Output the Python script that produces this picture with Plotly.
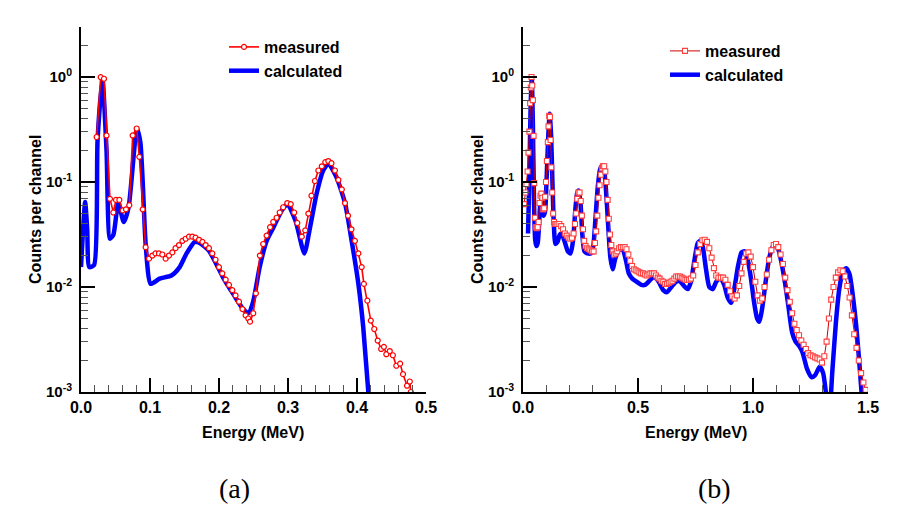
import plotly.graph_objects as go

# ---------------- Panel (a) ----------------
energy_meas_a = [0.0227, 0.0285, 0.0333, 0.037, 0.042, 0.0469, 0.0507, 0.0556, 0.0604, 0.0652,
                 0.070, 0.0749, 0.0807, 0.0845, 0.0894, 0.0937, 0.0986, 0.1034, 0.108, 0.113,
                 0.1179, 0.1227, 0.1275, 0.1324, 0.137, 0.142, 0.147, 0.1517, 0.1565, 0.1614,
                 0.166, 0.171, 0.176, 0.1807, 0.1855, 0.1903, 0.195, 0.200, 0.2048, 0.2097,
                 0.2145, 0.2193, 0.224, 0.229, 0.234, 0.2386, 0.2425, 0.245, 0.2496, 0.2535,
                 0.2593, 0.264, 0.269, 0.274, 0.2786, 0.2835, 0.288, 0.293, 0.299, 0.304,
                 0.309, 0.3135, 0.320, 0.325, 0.3295, 0.334, 0.339, 0.344, 0.349, 0.354,
                 0.3585, 0.363, 0.368, 0.373, 0.378, 0.3826, 0.387, 0.392, 0.397, 0.402,
                 0.4068, 0.410, 0.415, 0.420, 0.425, 0.430, 0.435, 0.439, 0.4425, 0.4475,
                 0.452, 0.457, 0.4625, 0.4667, 0.4725, 0.4765, 0.478]
log10_meas_a = [-0.571, 0.0, -0.016, -0.556, -1.16, -1.29, -1.17, -1.17, -1.27, -1.26,
                -1.22, -0.556, -0.49, -0.76, -1.26, -1.62, -1.73, -1.70, -1.68, -1.68,
                -1.69, -1.73, -1.70, -1.67, -1.63, -1.60, -1.56, -1.54, -1.52, -1.52,
                -1.53, -1.55, -1.57, -1.60, -1.63, -1.68, -1.74, -1.81, -1.87, -1.93,
                -1.98, -2.03, -2.08, -2.14, -2.21, -2.27, -2.30, -2.33, -2.25, -2.06,
                -1.70, -1.59, -1.51, -1.43, -1.38, -1.34, -1.29, -1.24, -1.20, -1.21,
                -1.29, -1.39, -1.52, -1.46, -1.30, -1.13, -0.99, -0.89, -0.85, -0.81,
                -0.80, -0.82, -0.89, -0.98, -1.07, -1.20, -1.32, -1.45, -1.56, -1.68,
                -1.81, -1.97, -2.13, -2.32, -2.40, -2.51, -2.59, -2.57, -2.64, -2.61,
                -2.65, -2.75, -2.73, -2.83, -2.94, -2.90, -3.0]

energy_calc_a = [0.000, 0.003, 0.006, 0.009, 0.012, 0.019, 0.024, 0.031, 0.037, 0.042, 0.047, 0.054,
                 0.062, 0.069, 0.081, 0.086, 0.094, 0.101, 0.114, 0.131, 0.143, 0.153,
                 0.165, 0.172, 0.185, 0.196, 0.206, 0.221, 0.235, 0.2425, 0.2495, 0.259,
                 0.269, 0.279, 0.291, 0.299, 0.311, 0.3237, 0.332, 0.3415, 0.351, 0.3585,
                 0.370, 0.3826, 0.392, 0.402, 0.409, 0.4164, 0.420]
log10_calc_a = [-1.81, -1.45, -1.19, -1.45, -1.81, -1.79, -0.60, -0.02, -0.70, -1.54, -1.50, -1.20,
                -1.38, -1.24, -0.49, -0.62, -1.62, -1.97, -1.92, -1.89, -1.81, -1.68,
                -1.57, -1.58, -1.65, -1.78, -1.91, -2.07, -2.21, -2.25, -2.14, -1.81,
                -1.56, -1.43, -1.27, -1.21, -1.37, -1.68, -1.43, -1.11, -0.89, -0.825,
                -0.95, -1.20, -1.55, -1.97, -2.38, -3.0, -3.2]

# ---------------- Panel (b) ----------------
energy_meas_b = [0.005, 0.010, 0.015, 0.020, 0.024, 0.028, 0.031, 0.034, 0.037, 0.040,
                 0.043, 0.046, 0.049, 0.052, 0.056, 0.060, 0.064, 0.068, 0.072, 0.076,
                 0.080, 0.084, 0.088, 0.092, 0.096, 0.100, 0.104, 0.108, 0.111, 0.114,
                 0.117, 0.120, 0.123, 0.127, 0.131, 0.135, 0.140, 0.145,
                 0.150, 0.158, 0.166, 0.174, 0.182, 0.190, 0.198, 0.206, 0.213, 0.220,
                 0.226, 0.231, 0.236, 0.241, 0.246, 0.251, 0.256, 0.261, 0.266, 0.272,
                 0.279, 0.286, 0.293, 0.300, 0.307, 0.313, 0.318, 0.323, 0.328, 0.333,
                 0.338, 0.343, 0.348, 0.353, 0.358, 0.363, 0.368, 0.373, 0.378, 0.384,
                 0.390, 0.396, 0.403, 0.410, 0.418, 0.426, 0.434, 0.442, 0.450, 0.458,
                 0.466, 0.474, 0.482, 0.490, 0.498, 0.506, 0.514, 0.522, 0.530, 0.538,
                 0.546, 0.554, 0.562, 0.570, 0.578, 0.586, 0.594, 0.602, 0.610, 0.618,
                 0.626, 0.634, 0.642, 0.650, 0.658, 0.666, 0.674, 0.682, 0.690, 0.698,
                 0.706, 0.714, 0.722, 0.730,
                 0.740, 0.750, 0.760, 0.770, 0.780, 0.790, 0.800, 0.810, 0.820, 0.830,
                 0.840, 0.850, 0.860, 0.870, 0.880, 0.890, 0.900, 0.910, 0.920, 0.930,
                 0.940, 0.950, 0.960, 0.970, 0.980, 0.990, 1.000, 1.010, 1.020, 1.030,
                 1.040, 1.050, 1.060, 1.070, 1.080, 1.090, 1.100, 1.110, 1.120, 1.130,
                 1.140, 1.150, 1.160, 1.170, 1.180, 1.190, 1.200, 1.210, 1.220, 1.230,
                 1.240, 1.250, 1.260, 1.270, 1.280, 1.290, 1.300, 1.310, 1.320, 1.330,
                 1.340, 1.350, 1.360, 1.370, 1.380, 1.390, 1.400, 1.410, 1.420, 1.430,
                 1.440, 1.450, 1.460, 1.470, 1.480, 1.490]
log10_meas_b = [-1.21, -1.10, -1.02, -0.90, -0.72, -0.52, -0.25, -0.10, 0.0, -0.08,
                -0.22, -0.56, -1.01, -1.34, -1.43, -1.44, -1.43, -1.38, -1.20, -1.13,
                -1.11, -1.15, -1.26, -1.25, -1.14, -1.00, -0.80, -0.62, -0.47, -0.37,
                -0.38, -0.60, -0.86, -1.10, -1.30, -1.38, -1.40, -1.40,
                -1.40, -1.40, -1.42, -1.45, -1.49, -1.51, -1.53, -1.54, -1.53, -1.49,
                -1.40, -1.30, -1.16, -1.10, -1.10, -1.18, -1.32, -1.45, -1.56, -1.61,
                -1.63, -1.64, -1.65, -1.66, -1.66, -1.58, -1.47, -1.32, -1.15, -1.03,
                -0.93, -0.87, -0.85, -0.85, -0.90, -1.00, -1.17, -1.35, -1.50, -1.60,
                -1.66, -1.69, -1.68, -1.66, -1.63, -1.62, -1.62, -1.62, -1.64, -1.69,
                -1.75, -1.80, -1.83, -1.84, -1.85, -1.86, -1.87, -1.87, -1.88, -1.89,
                -1.88, -1.87, -1.87, -1.87, -1.89, -1.91, -1.92, -1.94, -1.95, -1.97,
                -1.97, -1.96, -1.95, -1.94, -1.92, -1.90, -1.90, -1.90, -1.91, -1.92,
                -1.93, -1.93, -1.93, -1.92,
                -1.89, -1.79, -1.67, -1.59, -1.555, -1.55, -1.57, -1.63, -1.72, -1.82,
                -1.89, -1.91, -1.91, -1.91, -1.93, -1.98, -2.04, -2.09, -2.11, -2.08,
                -1.99, -1.87, -1.76, -1.68, -1.67, -1.71, -1.81, -1.95, -2.08, -2.13,
                -2.11, -2.00, -1.88, -1.74, -1.65, -1.60, -1.59, -1.62, -1.69, -1.78,
                -1.91, -2.03, -2.14, -2.25, -2.35, -2.41, -2.46, -2.51, -2.55, -2.59,
                -2.63, -2.65, -2.66, -2.67, -2.68, -2.69, -2.72, -2.66, -2.52, -2.30,
                -2.12, -2.00, -1.91, -1.86, -1.84, -1.85, -1.90, -1.99, -2.10, -2.27,
                -2.45, -2.58, -2.70, -2.82, -2.91, -2.98]

energy_calc_b = [0.022, 0.028, 0.033, 0.038, 0.043, 0.048, 0.053, 0.058, 0.064, 0.070,
                 0.077, 0.083, 0.090, 0.096, 0.103, 0.110, 0.116, 0.122, 0.128, 0.134,
                 0.141, 0.150, 0.160, 0.168, 0.180, 0.195, 0.207, 0.218, 0.228, 0.236,
                 0.242, 0.250, 0.258, 0.267, 0.280, 0.295, 0.305, 0.315, 0.325, 0.335,
                 0.345, 0.352, 0.360, 0.370, 0.380, 0.390, 0.400, 0.412, 0.425, 0.435,
                 0.448, 0.460, 0.475, 0.495, 0.515, 0.530, 0.550, 0.570, 0.590, 0.610,
                 0.625, 0.645, 0.665, 0.680, 0.700, 0.716, 0.730, 0.745, 0.760, 0.772,
                 0.782, 0.795, 0.810, 0.825, 0.840, 0.858, 0.875, 0.890, 0.905, 0.920,
                 0.935, 0.950, 0.963, 0.975, 0.990, 1.005, 1.018, 1.028, 1.040, 1.055,
                 1.070, 1.085, 1.098, 1.110, 1.125, 1.140, 1.155, 1.170, 1.185, 1.200,
                 1.215, 1.235, 1.255, 1.270, 1.290, 1.305, 1.320, 1.333, 1.345, 1.360,
                 1.375, 1.390, 1.405, 1.420, 1.435, 1.450, 1.465, 1.475, 1.480]
log10_calc_b = [-1.49, -0.90, -0.30, 0.0, -0.45, -1.20, -1.55, -1.61, -1.58, -1.40,
                -1.17, -1.20, -1.32, -1.28, -0.95, -0.55, -0.35, -0.55, -1.00, -1.40,
                -1.59, -1.57, -1.50, -1.49, -1.56, -1.66, -1.68, -1.55, -1.25, -1.10,
                -1.08, -1.20, -1.50, -1.66, -1.68, -1.68, -1.62, -1.35, -1.05, -0.88,
                -0.84, -0.87, -1.05, -1.40, -1.72, -1.83, -1.74, -1.66, -1.64, -1.65,
                -1.75, -1.87, -1.92, -1.95, -1.98, -1.98, -1.94, -1.90, -1.95, -2.03,
                -2.05, -2.00, -1.95, -1.94, -1.99, -2.02, -1.95, -1.75, -1.58, -1.56,
                -1.62, -1.82, -2.00, -2.02, -1.95, -1.91, -1.98, -2.10, -2.15, -2.00,
                -1.80, -1.67, -1.66, -1.72, -1.90, -2.15, -2.30, -2.33, -2.20, -1.95,
                -1.73, -1.62, -1.60, -1.64, -1.78, -1.97, -2.20, -2.43, -2.52, -2.56,
                -2.62, -2.78, -2.86, -2.84, -2.76, -2.82, -3.05, -3.15, -2.80, -2.35,
                -2.02, -1.86, -1.82, -1.88, -2.10, -2.40, -2.80, -3.10, -3.30]

y_tick_vals = [0.001, 0.01, 0.1, 1]
y_tick_text = ["10<sup>-3</sup>", "10<sup>-2</sup>", "10<sup>-1</sup>", "10<sup>0</sup>"]
x_ticks_a = [0.0, 0.1, 0.2, 0.3, 0.4, 0.5]
x_ticks_b = [0.0, 0.5, 1.0, 1.5]


def counts(logs):
    return [10 ** v for v in logs]


FONT = "Liberation Sans, Arial, sans-serif"
BLUE = "#0000ff"
RED = "#ff0000"

fig = go.Figure()

# panel (a)
fig.add_trace(go.Scatter(x=energy_calc_a, y=counts(log10_calc_a), mode="lines",
                         name="calculated", line=dict(color=BLUE, width=4.5, shape="spline", smoothing=0.6),
                         xaxis="x", yaxis="y", legend="legend", legendrank=2))
fig.add_trace(go.Scatter(x=energy_meas_a, y=counts(log10_meas_a), mode="lines+markers",
                         name="measured", line=dict(color=RED, width=1.6),
                         marker=dict(symbol="circle", size=5, color="white",
                                     line=dict(color=RED, width=1.2)),
                         xaxis="x", yaxis="y", legend="legend", legendrank=1))

# panel (b)
fig.add_trace(go.Scatter(x=energy_calc_b, y=counts(log10_calc_b), mode="lines",
                         name="calculated", line=dict(color=BLUE, width=4.5, shape="spline", smoothing=0.6),
                         xaxis="x2", yaxis="y2", legend="legend2", legendrank=2))
fig.add_trace(go.Scatter(x=energy_meas_b, y=counts(log10_meas_b), mode="lines+markers",
                         name="measured", line=dict(color="#d00000", width=1),
                         marker=dict(symbol="square", size=5, color="white",
                                     line=dict(color="#ff4040", width=1.1)),
                         xaxis="x2", yaxis="y2", legend="legend2", legendrank=1))

W, H = 919, 519
dom_y = [(H - 392) / H, (H - 27) / H]
dom_xa = [81 / W, 426 / W]
dom_xb = [523 / W, 868 / W]

tickfont = dict(family=FONT, size=16, color="black", weight="bold")

common_x = dict(showline=True, linecolor="black", linewidth=2, ticks="inside", ticklen=14,
                tickwidth=2, tickcolor="black", showgrid=False, zeroline=False, mirror=False,
                tickfont=tickfont, tickformat=".1f", automargin=False)
common_y = dict(type="log", range=[-3, 0.477], showline=True, linecolor="black", linewidth=2,
                ticks="inside", ticklen=14, tickwidth=2, tickcolor="black", showgrid=False,
                zeroline=False, tickvals=y_tick_vals, ticktext=y_tick_text,
                tickfont=dict(family=FONT, size=15, color="black", weight="bold"),
                automargin=False, ticklabelstandoff=4,
                minor=dict(ticks="inside", ticklen=7, tickwidth=1, tickcolor="#555555",
                           dtick="D1", showgrid=False))

fig.update_layout(
    width=W, height=H, margin=dict(l=0, r=0, t=0, b=0, autoexpand=False),
    paper_bgcolor="white", plot_bgcolor="white",
    xaxis=dict(domain=dom_xa, range=[0, 0.5], tickvals=x_ticks_a, anchor="y",
               minor=dict(ticks="inside", ticklen=7, tickwidth=1, tickcolor="#555555", dtick=0.02),
               **common_x),
    yaxis=dict(domain=dom_y, anchor="x", **common_y),
    xaxis2=dict(domain=dom_xb, range=[0, 1.5], tickvals=x_ticks_b, anchor="y2",
                minor=dict(ticks="inside", ticklen=7, tickwidth=1, tickcolor="#555555", dtick=0.1),
                **common_x),
    yaxis2=dict(domain=dom_y, anchor="x2", **common_y),
    legend=dict(x=224 / W, y=1 - 30 / H, xanchor="left", yanchor="top",
                font=dict(family=FONT, size=16, color="black", weight="bold"),
                bgcolor="rgba(0,0,0,0)", tracegroupgap=0, itemwidth=30),
    legend2=dict(x=665 / W, y=1 - 34 / H, xanchor="left", yanchor="top",
                 font=dict(family=FONT, size=16, color="black", weight="bold"),
                 bgcolor="rgba(0,0,0,0)", tracegroupgap=0, itemwidth=30),
    showlegend=True,
)

title_font = dict(family=FONT, size=16, color="black", weight="bold")
annotations = [
    dict(text="Counts per channel", x=35 / W, y=1 - 210 / H, textangle=-90, font=title_font),
    dict(text="Counts per channel", x=477 / W, y=1 - 210 / H, textangle=-90, font=title_font),
    dict(text="Energy (MeV)", x=253 / W, y=1 - 432 / H, font=title_font),
    dict(text="Energy (MeV)", x=696 / W, y=1 - 432 / H, font=title_font),
    dict(text="(a)", x=235 / W, y=1 - 488 / H,
         font=dict(family="Liberation Serif, serif", size=28, color="black")),
    dict(text="(b)", x=714 / W, y=1 - 488 / H,
         font=dict(family="Liberation Serif, serif", size=28, color="black")),
]
for a in annotations:
    a.update(xref="paper", yref="paper", showarrow=False, xanchor="center", yanchor="middle")
fig.update_layout(annotations=annotations)

fig.write_html("out.html", config={"displayModeBar": False},
               post_script="document.body.style.margin='0px';")
